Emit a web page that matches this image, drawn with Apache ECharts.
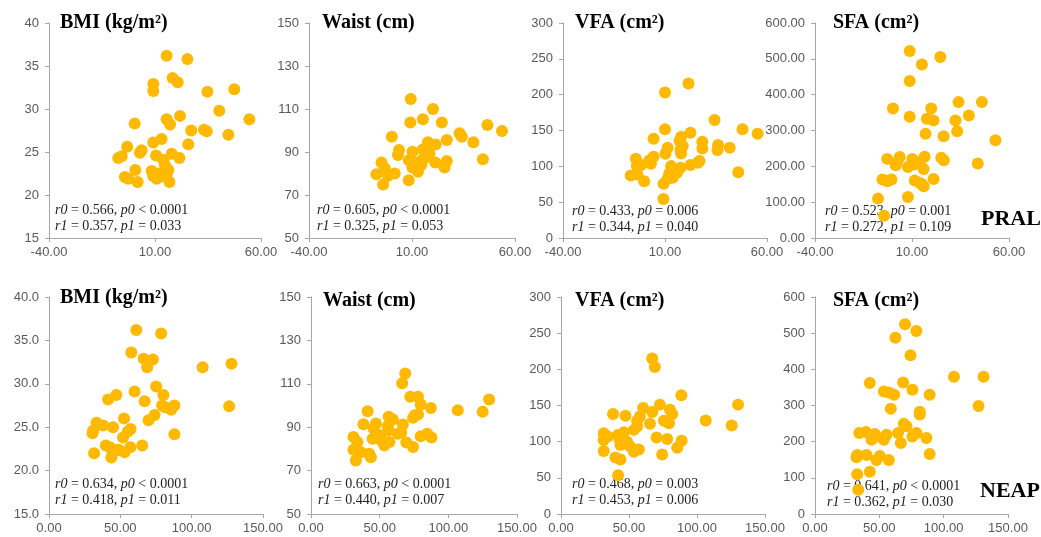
<!DOCTYPE html>
<html>
<head>
<meta charset="utf-8">
<script src="https://cdn.jsdelivr.net/npm/echarts@6/dist/echarts.min.js"></script>
<style>
	html, body { margin: 0; padding: 0; background: #fff; }
	#chart { width: 1041px; height: 537px; }
</style>
</head>
<body>
<div id="chart"></div>
<script>
	// 数据: [PRAL 或 NEAP, 指标值]
	const pralBmi = [[15.5,36.2],[25.3,35.8],[18.3,33.6],[20.7,33.1],[9.2,32.9],[9.2,32.1],[34.7,32.0],[47.4,32.3],[40.3,29.8],[54.5,28.8],[21.8,29.2],[15.5,28.8],[17.1,28.2],[0.4,28.3],[27.1,27.5],[33.1,27.6],[34.4,27.4],[44.6,27.0],[25.7,25.9],[9.2,26.1],[13.1,26.5],[-3.1,25.6],[3.7,25.2],[2.9,24.9],[-5.7,24.5],[-7.3,24.3],[10.5,24.6],[17.9,24.8],[13.9,24.1],[21.5,24.3],[0.7,22.9],[-4.2,22.1],[-2.6,21.9],[1.8,21.5],[8.4,22.8],[9.2,22.2],[11.6,22.5],[12.0,22.1],[16.3,22.9],[15.5,22.4],[16.8,21.5],[10.8,21.9],[14.7,23.5]]
	const pralWaist = [[9.4,114.7],[9.2,103.7],[15.3,105.2],[20.2,110.0],[24.5,103.7],[0.2,97.1],[33.1,98.7],[34.2,97.1],[46.6,102.6],[53.7,99.8],[39.8,94.5],[26.9,95.6],[17.7,94.5],[21.5,93.5],[3.7,90.9],[3.2,88.6],[10.2,90.1],[15.3,91.2],[16.5,88.6],[44.4,86.6],[26.9,85.8],[21.3,85.1],[8.5,86.2],[12.1,85.1],[14.5,83.9],[25.8,82.8],[10.2,82.8],[12.9,80.8],[8.4,76.9],[-4.8,85.1],[-3.2,82.3],[-7.3,79.7],[-1.6,78.9],[1.6,80.0],[-4.0,74.9],[15.3,86.5],[17.7,87.8],[18.5,89.3]]
	const pralVfa = [[21.5,215.5],[10.0,202.9],[34.3,164.7],[10.0,151.6],[48.0,151.6],[55.4,145.5],[22.5,147.0],[4.4,138.5],[17.9,141.3],[17.1,135.3],[18.7,128.3],[28.3,134.3],[28.3,125.0],[36.0,129.7],[35.7,122.7],[41.7,126.0],[11.3,126.0],[10.2,117.5],[17.6,122.7],[17.9,118.0],[-4.3,110.5],[4.4,113.3],[2.3,108.2],[3.1,103.5],[-1.8,101.7],[-3.8,100.3],[22.5,101.7],[26.1,105.0],[26.9,107.3],[13.0,100.3],[15.1,95.6],[17.6,98.0],[45.9,91.9],[-6.8,87.2],[-3.5,88.6],[12.1,90.0],[13.8,84.0],[11.3,82.6],[-0.2,79.3],[9.3,75.6],[9.2,54.5],[15.9,91.0]]
	const pralSfa = [[8.8,521.7],[24.6,505.0],[15.1,484.5],[8.8,437.9],[0.2,361.5],[8.8,338.2],[19.9,361.5],[34.0,379.2],[46.0,379.2],[39.3,341.9],[17.7,332.6],[21.1,327.9],[32.4,327.9],[33.3,298.1],[17.0,290.6],[26.3,284.1],[53.0,273.0],[16.5,226.8],[25.1,224.0],[26.4,216.9],[43.9,207.7],[-2.8,220.8],[3.7,226.2],[2.3,212.4],[1.6,203.1],[10.2,220.8],[14.0,211.4],[7.9,198.4],[11.0,205.0],[16.0,192.8],[-5.2,163.0],[-2.7,158.4],[-0.6,163.0],[11.4,160.2],[14.0,153.7],[16.0,144.4],[21.1,164.9],[-7.5,109.9],[7.9,114.6],[-4.4,62.4],[15.1,150.9]]
	const neapBmi = [[61.2,36.2],[78.6,35.8],[57.7,33.6],[66.3,32.9],[72.8,32.8],[68.8,31.9],[107.7,31.9],[127.9,32.3],[75.1,29.7],[60.0,29.1],[47.2,28.7],[41.4,28.2],[80.2,28.7],[67.0,28.0],[79.3,27.5],[81.4,27.3],[87.9,27.5],[126.3,27.4],[85.6,27.0],[74.0,26.4],[69.8,25.8],[52.6,26.0],[33.3,25.5],[37.9,25.2],[30.9,24.6],[30.5,24.3],[44.9,25.0],[57.2,24.8],[55.3,24.5],[51.9,23.8],[87.9,24.2],[31.6,22.0],[39.8,22.9],[42.6,22.7],[48.8,22.4],[44.9,22.1],[43.7,21.5],[53.0,22.1],[57.0,22.7],[65.3,22.9],[46.0,22.4]]
	const neapWaist = [[68.6,114.8],[66.4,110.2],[72.3,104.0],[77.9,104.0],[79.9,100.5],[87.3,98.9],[106.9,97.8],[125.0,97.1],[129.7,102.8],[41.2,97.4],[75.5,95.5],[77.9,95.8],[74.3,94.3],[56.6,94.8],[59.6,93.5],[38.2,91.4],[47.3,91.7],[66.9,91.2],[55.9,90.4],[45.6,89.4],[56.4,88.6],[63.2,87.0],[65.7,87.5],[79.9,85.8],[84.6,87.0],[87.7,85.2],[30.9,85.5],[33.8,83.2],[44.9,84.7],[50.5,86.3],[51.0,84.0],[53.4,82.4],[57.1,83.2],[69.4,82.9],[74.3,80.9],[30.9,79.6],[36.3,78.5],[42.4,77.8],[43.6,76.2],[32.6,74.7],[53.4,81.6]]
	const neapVfa = [[67.1,214.9],[69.0,203.3],[88.5,164.2],[130.2,151.2],[72.7,151.2],[80.1,144.2],[60.4,146.5],[67.1,140.9],[38.3,138.1],[47.4,135.8],[58.0,134.9],[81.8,138.1],[56.0,128.8],[75.7,128.8],[79.4,125.6],[65.4,124.7],[106.4,129.3],[125.5,122.3],[56.0,120.9],[53.6,116.3],[31.4,111.6],[34.4,107.0],[41.8,109.3],[46.2,113.0],[31.4,102.3],[43.2,102.3],[70.3,105.6],[78.1,103.7],[88.7,101.4],[48.6,100.0],[43.7,95.3],[31.4,87.0],[51.1,93.0],[53.6,86.0],[57.2,89.3],[85.5,91.6],[74.4,82.3],[40.0,78.1],[43.7,75.3],[42.0,53.5],[46.7,97.7]]
	const neapSfa = [[70.0,524.4],[78.8,505.8],[62.5,487.1],[74.2,438.6],[108.0,379.8],[131.0,379.8],[127.1,298.6],[42.6,362.1],[68.5,363.9],[75.7,343.4],[53.5,338.7],[57.4,335.9],[61.5,329.4],[89.1,329.4],[58.9,291.1],[81.4,282.7],[81.4,275.3],[69.0,249.2],[71.1,242.6],[34.4,223.9],[39.5,226.8],[46.5,221.2],[55.6,219.3],[64.6,224.0],[78.8,224.0],[75.7,214.6],[86.6,209.9],[43.9,205.3],[53.5,205.3],[66.7,196.0],[32.8,163.3],[40.1,163.3],[50.4,160.5],[47.8,149.3],[57.4,149.3],[89.1,166.1],[32.8,110.1],[42.6,116.7],[33.6,67.2],[47.3,214.6],[32.3,156.8]]

	// 各面板标题和相关系数
	const panelTitles = ['BMI (kg/m²)', 'Waist (cm)', 'VFA (cm²)', 'SFA (cm²)', 'BMI (kg/m²)', 'Waist (cm)', 'VFA (cm²)', 'SFA (cm²)']
	const statR0 = ['0.566', '0.605', '0.433', '0.523', '0.634', '0.663', '0.468', '0.641']
	const statP0 = ['< 0.0001', '< 0.0001', '= 0.006', '= 0.001', '< 0.0001', '< 0.0001', '= 0.003', '< 0.0001']
	const statR1 = ['0.357', '0.325', '0.344', '0.272', '0.418', '0.440', '0.453', '0.362']
	const statP1 = ['= 0.033', '= 0.053', '= 0.040', '= 0.109', '= 0.011', '= 0.007', '= 0.006', '= 0.030']
	const rowLabels = ['PRAL', 'NEAP']

	// 坐标轴范围 [min, max, interval]
	const xRanges = [[-40, 60, 50], [-40, 60, 50], [-40, 60, 50], [-40, 60, 50], [0, 150, 50], [0, 150, 50], [0, 150, 50], [0, 150, 50]]
	const yRanges = [[15, 40, 5], [50, 150, 20], [0, 300, 50], [0, 600, 100], [15, 40, 5], [50, 150, 20], [0, 300, 50], [0, 600, 100]]
	const yDecimals = [0, 0, 0, 2, 1, 0, 0, 0]

	const seriesData = [pralBmi, pralWaist, pralVfa, pralSfa, neapBmi, neapWaist, neapVfa, neapSfa]

	// 布局 (px)
	const gridBoxes = [
		[49, 23, 212, 215], [309, 23, 206, 215], [563, 23, 204, 215], [815, 23, 194, 215],
		[49, 297, 214, 217], [311, 297, 206, 217], [561, 297, 204, 217], [815, 297, 193, 217]
	]
	const titlePos = [[60, 13], [322, 13], [575, 13], [833, 13], [60, 288], [323, 291], [575, 291], [833, 291]]
	const statPos = [[55, 203], [317, 203], [572, 204], [825, 204], [55, 477], [318, 477], [572, 477], [827, 479]]

	const axisColor = '#a6a6a6'
	const labelColor = '#595959'
	const dotColor = '#FFB900'
	const serif = '"Liberation Serif", "Times New Roman", serif'

	const grid = [], xAxis = [], yAxis = [], series = [], graphic = []

	for (let i = 0; i < 8; i++) {
		const g = gridBoxes[i]
		grid.push({ left: g[0], top: g[1], width: g[2], height: g[3], containLabel: false })
		xAxis.push({
			type: 'value', gridIndex: i,
			min: xRanges[i][0], max: xRanges[i][1], interval: xRanges[i][2],
			axisLine: { show: true, onZero: false, lineStyle: { color: axisColor, width: 1 } },
			axisTick: { show: true, length: 4, lineStyle: { color: axisColor } },
			splitLine: { show: false },
			axisLabel: {
				color: labelColor, fontSize: 13, fontFamily: '"Liberation Sans", Arial, sans-serif', margin: 8,
				formatter: v => v.toFixed(2)
			}
		})
		yAxis.push({
			type: 'value', gridIndex: i,
			min: yRanges[i][0], max: yRanges[i][1], interval: yRanges[i][2],
			axisLine: { show: true, onZero: false, lineStyle: { color: axisColor, width: 1 } },
			axisTick: { show: true, length: 4, lineStyle: { color: axisColor } },
			splitLine: { show: false },
			axisLabel: {
				color: labelColor, fontSize: 13, fontFamily: '"Liberation Sans", Arial, sans-serif', margin: 10,
				formatter: (d => v => v.toFixed(d))(yDecimals[i])
			}
		})
		series.push({
			type: 'scatter', xAxisIndex: i, yAxisIndex: i,
			symbolSize: 12,
			itemStyle: { color: dotColor, opacity: 1 },
			data: seriesData[i]
		})

		// 标题
		graphic.push({
			type: 'text', left: titlePos[i][0], top: titlePos[i][1],
			style: { text: panelTitles[i], font: 'bold 20px ' + serif, fill: '#000' }
		})
		// r / p 值
		const rich = {
			i: { fontFamily: serif, fontSize: 14, fontStyle: 'italic', fill: '#222' },
			n: { fontFamily: serif, fontSize: 14, fill: '#222' }
		}
		graphic.push({
			type: 'text', left: statPos[i][0], top: statPos[i][1],
			style: { text: '{i|r0}{n| = ' + statR0[i] + ', }{i|p0}{n| ' + statP0[i] + '}', rich: rich, font: '14px ' + serif }
		})
		graphic.push({
			type: 'text', left: statPos[i][0], top: statPos[i][1] + 16,
			style: { text: '{i|r1}{n| = ' + statR1[i] + ', }{i|p1}{n| ' + statP1[i] + '}', rich: rich, font: '14px ' + serif }
		})
	}

	graphic.push({
		type: 'text', left: 981, top: 208,
		style: { text: rowLabels[0], font: 'bold 22px ' + serif, fill: '#000' }
	})
	graphic.push({
		type: 'text', left: 980, top: 480,
		style: { text: rowLabels[1], font: 'bold 22px ' + serif, fill: '#000' }
	})

	const myChart = echarts.init(document.getElementById('chart'), null, { renderer: 'canvas' })
	myChart.setOption({
		animation: false,
		backgroundColor: '#fff',
		grid: grid,
		xAxis: xAxis,
		yAxis: yAxis,
		series: series,
		graphic: graphic
	})
</script>
</body>
</html>
